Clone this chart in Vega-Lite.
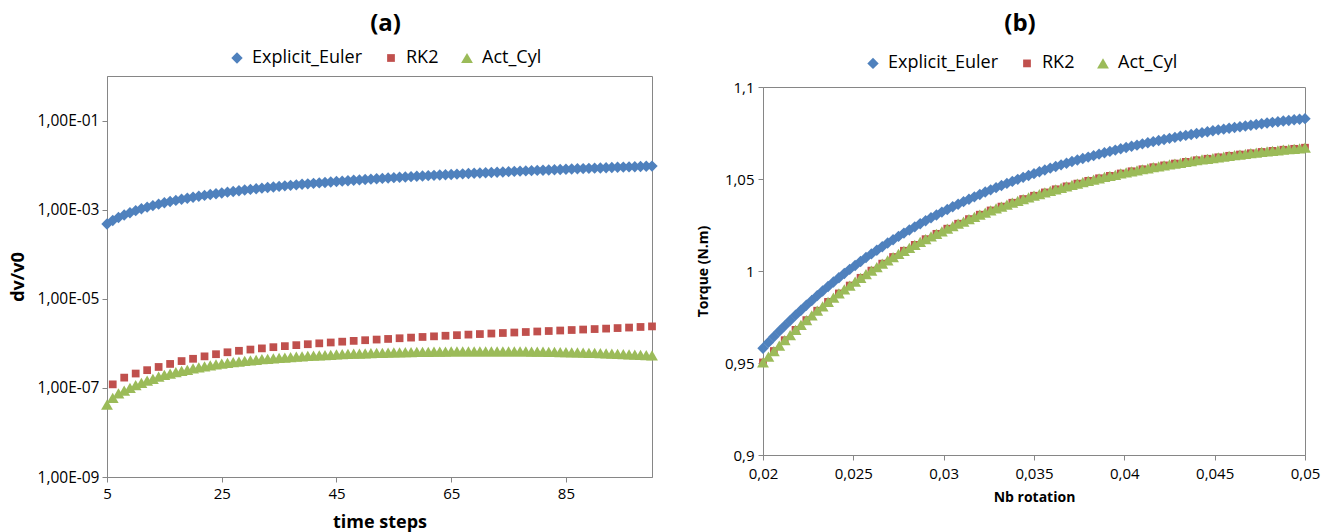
{
"$schema": "https://vega.github.io/schema/vega-lite/v6.json",
"padding": {"left": 8, "top": 10, "right": 5, "bottom": 0},
"background": "white",
"config": {
  "font": "Open Sans",
  "view": {"stroke": "#868686", "strokeWidth": 1},
  "axis": {"grid": false, "domainColor": "#868686", "tickColor": "#868686", "tickSize": 5, "labelColor": "black", "titleColor": "black", "labelFlush": false, "labelOverlap": false, "titleFontWeight": "bold", "labelFont": "Open Sans", "titleFont": "Open Sans"},
  "title": {"fontSize": 24, "fontWeight": "bold", "font": "Open Sans", "color": "black", "anchor": "middle"},
  "legend": {"labelFont": "Open Sans", "labelColor": "black"}
},
"datasets": {
"a": [
{"s":"Explicit_Euler","x":5,"y":475e-6},{"s":"Explicit_Euler","x":6,"y":570e-6},{"s":"Explicit_Euler","x":7,"y":665e-6},{"s":"Explicit_Euler","x":8,"y":760e-6},{"s":"Explicit_Euler","x":9,"y":855e-6},{"s":"Explicit_Euler","x":10,"y":950e-6},
{"s":"Explicit_Euler","x":11,"y":1045e-6},{"s":"Explicit_Euler","x":12,"y":1140e-6},{"s":"Explicit_Euler","x":13,"y":1235e-6},{"s":"Explicit_Euler","x":14,"y":1330e-6},{"s":"Explicit_Euler","x":15,"y":1425e-6},{"s":"Explicit_Euler","x":16,"y":1520e-6},{"s":"Explicit_Euler","x":17,"y":1615e-6},{"s":"Explicit_Euler","x":18,"y":1710e-6},{"s":"Explicit_Euler","x":19,"y":1805e-6},{"s":"Explicit_Euler","x":20,"y":1900e-6},
{"s":"Explicit_Euler","x":21,"y":1995e-6},{"s":"Explicit_Euler","x":22,"y":2090e-6},{"s":"Explicit_Euler","x":23,"y":2185e-6},{"s":"Explicit_Euler","x":24,"y":2280e-6},{"s":"Explicit_Euler","x":25,"y":2375e-6},{"s":"Explicit_Euler","x":26,"y":2470e-6},{"s":"Explicit_Euler","x":27,"y":2565e-6},{"s":"Explicit_Euler","x":28,"y":2660e-6},{"s":"Explicit_Euler","x":29,"y":2755e-6},{"s":"Explicit_Euler","x":30,"y":2850e-6},
{"s":"Explicit_Euler","x":31,"y":2945e-6},{"s":"Explicit_Euler","x":32,"y":3040e-6},{"s":"Explicit_Euler","x":33,"y":3135e-6},{"s":"Explicit_Euler","x":34,"y":3230e-6},{"s":"Explicit_Euler","x":35,"y":3325e-6},{"s":"Explicit_Euler","x":36,"y":3420e-6},{"s":"Explicit_Euler","x":37,"y":3515e-6},{"s":"Explicit_Euler","x":38,"y":3610e-6},{"s":"Explicit_Euler","x":39,"y":3705e-6},{"s":"Explicit_Euler","x":40,"y":3800e-6},
{"s":"Explicit_Euler","x":41,"y":3895e-6},{"s":"Explicit_Euler","x":42,"y":3990e-6},{"s":"Explicit_Euler","x":43,"y":4085e-6},{"s":"Explicit_Euler","x":44,"y":4180e-6},{"s":"Explicit_Euler","x":45,"y":4275e-6},{"s":"Explicit_Euler","x":46,"y":4370e-6},{"s":"Explicit_Euler","x":47,"y":4465e-6},{"s":"Explicit_Euler","x":48,"y":4560e-6},{"s":"Explicit_Euler","x":49,"y":4655e-6},{"s":"Explicit_Euler","x":50,"y":4750e-6},
{"s":"Explicit_Euler","x":51,"y":4845e-6},{"s":"Explicit_Euler","x":52,"y":4940e-6},{"s":"Explicit_Euler","x":53,"y":5035e-6},{"s":"Explicit_Euler","x":54,"y":5130e-6},{"s":"Explicit_Euler","x":55,"y":5225e-6},{"s":"Explicit_Euler","x":56,"y":5320e-6},{"s":"Explicit_Euler","x":57,"y":5415e-6},{"s":"Explicit_Euler","x":58,"y":5510e-6},{"s":"Explicit_Euler","x":59,"y":5605e-6},{"s":"Explicit_Euler","x":60,"y":5700e-6},
{"s":"Explicit_Euler","x":61,"y":5795e-6},{"s":"Explicit_Euler","x":62,"y":5890e-6},{"s":"Explicit_Euler","x":63,"y":5985e-6},{"s":"Explicit_Euler","x":64,"y":6080e-6},{"s":"Explicit_Euler","x":65,"y":6175e-6},{"s":"Explicit_Euler","x":66,"y":6270e-6},{"s":"Explicit_Euler","x":67,"y":6365e-6},{"s":"Explicit_Euler","x":68,"y":6460e-6},{"s":"Explicit_Euler","x":69,"y":6555e-6},{"s":"Explicit_Euler","x":70,"y":6650e-6},
{"s":"Explicit_Euler","x":71,"y":6745e-6},{"s":"Explicit_Euler","x":72,"y":6840e-6},{"s":"Explicit_Euler","x":73,"y":6935e-6},{"s":"Explicit_Euler","x":74,"y":7030e-6},{"s":"Explicit_Euler","x":75,"y":7125e-6},{"s":"Explicit_Euler","x":76,"y":7220e-6},{"s":"Explicit_Euler","x":77,"y":7315e-6},{"s":"Explicit_Euler","x":78,"y":7410e-6},{"s":"Explicit_Euler","x":79,"y":7505e-6},{"s":"Explicit_Euler","x":80,"y":7600e-6},
{"s":"Explicit_Euler","x":81,"y":7695e-6},{"s":"Explicit_Euler","x":82,"y":7790e-6},{"s":"Explicit_Euler","x":83,"y":7885e-6},{"s":"Explicit_Euler","x":84,"y":7980e-6},{"s":"Explicit_Euler","x":85,"y":8075e-6},{"s":"Explicit_Euler","x":86,"y":8170e-6},{"s":"Explicit_Euler","x":87,"y":8265e-6},{"s":"Explicit_Euler","x":88,"y":8360e-6},{"s":"Explicit_Euler","x":89,"y":8455e-6},{"s":"Explicit_Euler","x":90,"y":8550e-6},
{"s":"Explicit_Euler","x":91,"y":8645e-6},{"s":"Explicit_Euler","x":92,"y":8740e-6},{"s":"Explicit_Euler","x":93,"y":8835e-6},{"s":"Explicit_Euler","x":94,"y":8930e-6},{"s":"Explicit_Euler","x":95,"y":9025e-6},{"s":"Explicit_Euler","x":96,"y":9120e-6},{"s":"Explicit_Euler","x":97,"y":9215e-6},{"s":"Explicit_Euler","x":98,"y":9310e-6},{"s":"Explicit_Euler","x":99,"y":9405e-6},{"s":"Explicit_Euler","x":100,"y":9500e-6},
{"s":"RK2","x":6,"y":120e-9},{"s":"RK2","x":8,"y":170e-9},{"s":"RK2","x":10,"y":210e-9},{"s":"RK2","x":12,"y":250e-9},{"s":"RK2","x":14,"y":295e-9},{"s":"RK2","x":16,"y":345e-9},{"s":"RK2","x":18,"y":400e-9},{"s":"RK2","x":20,"y":450e-9},
{"s":"RK2","x":22,"y":510e-9},{"s":"RK2","x":24,"y":570e-9},{"s":"RK2","x":26,"y":630e-9},{"s":"RK2","x":28,"y":680e-9},{"s":"RK2","x":30,"y":725e-9},{"s":"RK2","x":32,"y":770e-9},{"s":"RK2","x":34,"y":820e-9},{"s":"RK2","x":36,"y":865e-9},
{"s":"RK2","x":38,"y":910e-9},{"s":"RK2","x":40,"y":955e-9},{"s":"RK2","x":42,"y":1000e-9},{"s":"RK2","x":44,"y":1045e-9},{"s":"RK2","x":46,"y":1090e-9},{"s":"RK2","x":48,"y":1135e-9},{"s":"RK2","x":50,"y":1175e-9},{"s":"RK2","x":52,"y":1215e-9},
{"s":"RK2","x":54,"y":1255e-9},{"s":"RK2","x":56,"y":1300e-9},{"s":"RK2","x":58,"y":1345e-9},{"s":"RK2","x":60,"y":1390e-9},{"s":"RK2","x":62,"y":1435e-9},{"s":"RK2","x":64,"y":1480e-9},{"s":"RK2","x":66,"y":1525e-9},{"s":"RK2","x":68,"y":1570e-9},
{"s":"RK2","x":70,"y":1615e-9},{"s":"RK2","x":72,"y":1660e-9},{"s":"RK2","x":74,"y":1705e-9},{"s":"RK2","x":76,"y":1750e-9},{"s":"RK2","x":78,"y":1795e-9},{"s":"RK2","x":80,"y":1845e-9},{"s":"RK2","x":82,"y":1890e-9},{"s":"RK2","x":84,"y":1940e-9},
{"s":"RK2","x":86,"y":1990e-9},{"s":"RK2","x":88,"y":2040e-9},{"s":"RK2","x":90,"y":2090e-9},{"s":"RK2","x":92,"y":2140e-9},{"s":"RK2","x":94,"y":2200e-9},{"s":"RK2","x":96,"y":2260e-9},{"s":"RK2","x":98,"y":2330e-9},{"s":"RK2","x":100,"y":2400e-9},
{"s":"Act_Cyl","x":5,"y":42e-9},{"s":"Act_Cyl","x":6,"y":60e-9},{"s":"Act_Cyl","x":7,"y":75e-9},{"s":"Act_Cyl","x":8,"y":87e-9},{"s":"Act_Cyl","x":9,"y":100e-9},{"s":"Act_Cyl","x":10,"y":115e-9},
{"s":"Act_Cyl","x":11,"y":130e-9},{"s":"Act_Cyl","x":12,"y":145e-9},{"s":"Act_Cyl","x":13,"y":160e-9},{"s":"Act_Cyl","x":14,"y":180e-9},{"s":"Act_Cyl","x":15,"y":195e-9},{"s":"Act_Cyl","x":16,"y":210e-9},{"s":"Act_Cyl","x":17,"y":225e-9},{"s":"Act_Cyl","x":18,"y":240e-9},{"s":"Act_Cyl","x":19,"y":255e-9},{"s":"Act_Cyl","x":20,"y":275e-9},
{"s":"Act_Cyl","x":21,"y":290e-9},{"s":"Act_Cyl","x":22,"y":305e-9},{"s":"Act_Cyl","x":23,"y":320e-9},{"s":"Act_Cyl","x":24,"y":335e-9},{"s":"Act_Cyl","x":25,"y":350e-9},{"s":"Act_Cyl","x":26,"y":365e-9},{"s":"Act_Cyl","x":27,"y":378e-9},{"s":"Act_Cyl","x":28,"y":390e-9},{"s":"Act_Cyl","x":29,"y":403e-9},{"s":"Act_Cyl","x":30,"y":415e-9},
{"s":"Act_Cyl","x":31,"y":428e-9},{"s":"Act_Cyl","x":32,"y":440e-9},{"s":"Act_Cyl","x":33,"y":450e-9},{"s":"Act_Cyl","x":34,"y":460e-9},{"s":"Act_Cyl","x":35,"y":470e-9},{"s":"Act_Cyl","x":36,"y":480e-9},{"s":"Act_Cyl","x":37,"y":490e-9},{"s":"Act_Cyl","x":38,"y":500e-9},{"s":"Act_Cyl","x":39,"y":510e-9},{"s":"Act_Cyl","x":40,"y":520e-9},
{"s":"Act_Cyl","x":41,"y":530e-9},{"s":"Act_Cyl","x":42,"y":538e-9},{"s":"Act_Cyl","x":43,"y":546e-9},{"s":"Act_Cyl","x":44,"y":554e-9},{"s":"Act_Cyl","x":45,"y":562e-9},{"s":"Act_Cyl","x":46,"y":570e-9},{"s":"Act_Cyl","x":47,"y":577e-9},{"s":"Act_Cyl","x":48,"y":584e-9},{"s":"Act_Cyl","x":49,"y":590e-9},{"s":"Act_Cyl","x":50,"y":596e-9},
{"s":"Act_Cyl","x":51,"y":602e-9},{"s":"Act_Cyl","x":52,"y":608e-9},{"s":"Act_Cyl","x":53,"y":613e-9},{"s":"Act_Cyl","x":54,"y":618e-9},{"s":"Act_Cyl","x":55,"y":623e-9},{"s":"Act_Cyl","x":56,"y":628e-9},{"s":"Act_Cyl","x":57,"y":632e-9},{"s":"Act_Cyl","x":58,"y":636e-9},{"s":"Act_Cyl","x":59,"y":640e-9},{"s":"Act_Cyl","x":60,"y":644e-9},
{"s":"Act_Cyl","x":61,"y":647e-9},{"s":"Act_Cyl","x":62,"y":650e-9},{"s":"Act_Cyl","x":63,"y":653e-9},{"s":"Act_Cyl","x":64,"y":655e-9},{"s":"Act_Cyl","x":65,"y":657e-9},{"s":"Act_Cyl","x":66,"y":659e-9},{"s":"Act_Cyl","x":67,"y":661e-9},{"s":"Act_Cyl","x":68,"y":662e-9},{"s":"Act_Cyl","x":69,"y":663e-9},{"s":"Act_Cyl","x":70,"y":664e-9},
{"s":"Act_Cyl","x":71,"y":664e-9},{"s":"Act_Cyl","x":72,"y":664e-9},{"s":"Act_Cyl","x":73,"y":664e-9},{"s":"Act_Cyl","x":74,"y":663e-9},{"s":"Act_Cyl","x":75,"y":662e-9},{"s":"Act_Cyl","x":76,"y":661e-9},{"s":"Act_Cyl","x":77,"y":659e-9},{"s":"Act_Cyl","x":78,"y":657e-9},{"s":"Act_Cyl","x":79,"y":655e-9},{"s":"Act_Cyl","x":80,"y":652e-9},
{"s":"Act_Cyl","x":81,"y":649e-9},{"s":"Act_Cyl","x":82,"y":646e-9},{"s":"Act_Cyl","x":83,"y":642e-9},{"s":"Act_Cyl","x":84,"y":638e-9},{"s":"Act_Cyl","x":85,"y":634e-9},{"s":"Act_Cyl","x":86,"y":629e-9},{"s":"Act_Cyl","x":87,"y":624e-9},{"s":"Act_Cyl","x":88,"y":619e-9},{"s":"Act_Cyl","x":89,"y":613e-9},{"s":"Act_Cyl","x":90,"y":607e-9},
{"s":"Act_Cyl","x":91,"y":601e-9},{"s":"Act_Cyl","x":92,"y":595e-9},{"s":"Act_Cyl","x":93,"y":588e-9},{"s":"Act_Cyl","x":94,"y":581e-9},{"s":"Act_Cyl","x":95,"y":574e-9},{"s":"Act_Cyl","x":96,"y":567e-9},{"s":"Act_Cyl","x":97,"y":560e-9},{"s":"Act_Cyl","x":98,"y":552e-9},{"s":"Act_Cyl","x":99,"y":544e-9},{"s":"Act_Cyl","x":100,"y":536e-9}
],
"b": [
{"s":"Explicit_Euler","x":0.0200,"y":0.9580},{"s":"Explicit_Euler","x":0.0203,"y":0.9612},{"s":"Explicit_Euler","x":0.0206,"y":0.9643},{"s":"Explicit_Euler","x":0.0209,"y":0.9673},{"s":"Explicit_Euler","x":0.0212,"y":0.9702},{"s":"Explicit_Euler","x":0.0215,"y":0.9731},{"s":"Explicit_Euler","x":0.0218,"y":0.9760},{"s":"Explicit_Euler","x":0.0221,"y":0.9787},{"s":"Explicit_Euler","x":0.0224,"y":0.9814},{"s":"Explicit_Euler","x":0.0227,"y":0.9840},
{"s":"Explicit_Euler","x":0.0230,"y":0.9866},{"s":"Explicit_Euler","x":0.0233,"y":0.9891},{"s":"Explicit_Euler","x":0.0236,"y":0.9916},{"s":"Explicit_Euler","x":0.0239,"y":0.9940},{"s":"Explicit_Euler","x":0.0242,"y":0.9963},{"s":"Explicit_Euler","x":0.0245,"y":0.9986},{"s":"Explicit_Euler","x":0.0248,"y":1.0009},{"s":"Explicit_Euler","x":0.0251,"y":1.0030},{"s":"Explicit_Euler","x":0.0254,"y":1.0052},{"s":"Explicit_Euler","x":0.0257,"y":1.0073},
{"s":"Explicit_Euler","x":0.0260,"y":1.0093},{"s":"Explicit_Euler","x":0.0263,"y":1.0113},{"s":"Explicit_Euler","x":0.0266,"y":1.0132},{"s":"Explicit_Euler","x":0.0269,"y":1.0152},{"s":"Explicit_Euler","x":0.0272,"y":1.0170},{"s":"Explicit_Euler","x":0.0275,"y":1.0188},{"s":"Explicit_Euler","x":0.0278,"y":1.0206},{"s":"Explicit_Euler","x":0.0281,"y":1.0223},{"s":"Explicit_Euler","x":0.0284,"y":1.0240},{"s":"Explicit_Euler","x":0.0287,"y":1.0257},
{"s":"Explicit_Euler","x":0.0290,"y":1.0273},{"s":"Explicit_Euler","x":0.0293,"y":1.0289},{"s":"Explicit_Euler","x":0.0296,"y":1.0304},{"s":"Explicit_Euler","x":0.0299,"y":1.0320},{"s":"Explicit_Euler","x":0.0302,"y":1.0334},{"s":"Explicit_Euler","x":0.0305,"y":1.0349},{"s":"Explicit_Euler","x":0.0308,"y":1.0363},{"s":"Explicit_Euler","x":0.0311,"y":1.0377},{"s":"Explicit_Euler","x":0.0314,"y":1.0390},{"s":"Explicit_Euler","x":0.0317,"y":1.0403},
{"s":"Explicit_Euler","x":0.0320,"y":1.0416},{"s":"Explicit_Euler","x":0.0323,"y":1.0429},{"s":"Explicit_Euler","x":0.0326,"y":1.0441},{"s":"Explicit_Euler","x":0.0329,"y":1.0453},{"s":"Explicit_Euler","x":0.0332,"y":1.0465},{"s":"Explicit_Euler","x":0.0335,"y":1.0476},{"s":"Explicit_Euler","x":0.0338,"y":1.0487},{"s":"Explicit_Euler","x":0.0341,"y":1.0498},{"s":"Explicit_Euler","x":0.0344,"y":1.0509},{"s":"Explicit_Euler","x":0.0347,"y":1.0519},
{"s":"Explicit_Euler","x":0.0350,"y":1.0529},{"s":"Explicit_Euler","x":0.0353,"y":1.0539},{"s":"Explicit_Euler","x":0.0356,"y":1.0549},{"s":"Explicit_Euler","x":0.0359,"y":1.0559},{"s":"Explicit_Euler","x":0.0362,"y":1.0568},{"s":"Explicit_Euler","x":0.0365,"y":1.0577},{"s":"Explicit_Euler","x":0.0368,"y":1.0586},{"s":"Explicit_Euler","x":0.0371,"y":1.0595},{"s":"Explicit_Euler","x":0.0374,"y":1.0603},{"s":"Explicit_Euler","x":0.0377,"y":1.0611},
{"s":"Explicit_Euler","x":0.0380,"y":1.0619},{"s":"Explicit_Euler","x":0.0383,"y":1.0627},{"s":"Explicit_Euler","x":0.0386,"y":1.0635},{"s":"Explicit_Euler","x":0.0389,"y":1.0643},{"s":"Explicit_Euler","x":0.0392,"y":1.0650},{"s":"Explicit_Euler","x":0.0395,"y":1.0657},{"s":"Explicit_Euler","x":0.0398,"y":1.0664},{"s":"Explicit_Euler","x":0.0401,"y":1.0671},{"s":"Explicit_Euler","x":0.0404,"y":1.0678},{"s":"Explicit_Euler","x":0.0407,"y":1.0684},
{"s":"Explicit_Euler","x":0.0410,"y":1.0691},{"s":"Explicit_Euler","x":0.0413,"y":1.0697},{"s":"Explicit_Euler","x":0.0416,"y":1.0703},{"s":"Explicit_Euler","x":0.0419,"y":1.0709},{"s":"Explicit_Euler","x":0.0422,"y":1.0715},{"s":"Explicit_Euler","x":0.0425,"y":1.0721},{"s":"Explicit_Euler","x":0.0428,"y":1.0726},{"s":"Explicit_Euler","x":0.0431,"y":1.0732},{"s":"Explicit_Euler","x":0.0434,"y":1.0737},{"s":"Explicit_Euler","x":0.0437,"y":1.0742},
{"s":"Explicit_Euler","x":0.0440,"y":1.0747},{"s":"Explicit_Euler","x":0.0443,"y":1.0752},{"s":"Explicit_Euler","x":0.0446,"y":1.0757},{"s":"Explicit_Euler","x":0.0449,"y":1.0762},{"s":"Explicit_Euler","x":0.0452,"y":1.0767},{"s":"Explicit_Euler","x":0.0455,"y":1.0771},{"s":"Explicit_Euler","x":0.0458,"y":1.0776},{"s":"Explicit_Euler","x":0.0461,"y":1.0780},{"s":"Explicit_Euler","x":0.0464,"y":1.0784},{"s":"Explicit_Euler","x":0.0467,"y":1.0788},
{"s":"Explicit_Euler","x":0.0470,"y":1.0792},{"s":"Explicit_Euler","x":0.0473,"y":1.0796},{"s":"Explicit_Euler","x":0.0476,"y":1.0800},{"s":"Explicit_Euler","x":0.0479,"y":1.0804},{"s":"Explicit_Euler","x":0.0482,"y":1.0808},{"s":"Explicit_Euler","x":0.0485,"y":1.0811},{"s":"Explicit_Euler","x":0.0488,"y":1.0815},{"s":"Explicit_Euler","x":0.0491,"y":1.0818},{"s":"Explicit_Euler","x":0.0494,"y":1.0822},{"s":"Explicit_Euler","x":0.0497,"y":1.0825},
{"s":"Explicit_Euler","x":0.0500,"y":1.0828},
{"s":"RK2","x":0.0200,"y":0.9503},{"s":"RK2","x":0.0206,"y":0.9565},{"s":"RK2","x":0.0212,"y":0.9624},{"s":"RK2","x":0.0218,"y":0.9680},{"s":"RK2","x":0.0224,"y":0.9733},{"s":"RK2","x":0.0230,"y":0.9784},{"s":"RK2","x":0.0236,"y":0.9832},{"s":"RK2","x":0.0242,"y":0.9878},{"s":"RK2","x":0.0248,"y":0.9921},{"s":"RK2","x":0.0254,"y":0.9963},
{"s":"RK2","x":0.0260,"y":1.0002},{"s":"RK2","x":0.0266,"y":1.0040},{"s":"RK2","x":0.0272,"y":1.0076},{"s":"RK2","x":0.0278,"y":1.0110},{"s":"RK2","x":0.0284,"y":1.0142},{"s":"RK2","x":0.0290,"y":1.0173},{"s":"RK2","x":0.0296,"y":1.0202},{"s":"RK2","x":0.0302,"y":1.0230},{"s":"RK2","x":0.0308,"y":1.0257},{"s":"RK2","x":0.0314,"y":1.0282},
{"s":"RK2","x":0.0320,"y":1.0306},{"s":"RK2","x":0.0326,"y":1.0329},{"s":"RK2","x":0.0332,"y":1.0350},{"s":"RK2","x":0.0338,"y":1.0371},{"s":"RK2","x":0.0344,"y":1.0391},{"s":"RK2","x":0.0350,"y":1.0409},{"s":"RK2","x":0.0356,"y":1.0427},{"s":"RK2","x":0.0362,"y":1.0444},{"s":"RK2","x":0.0368,"y":1.0460},{"s":"RK2","x":0.0374,"y":1.0475},
{"s":"RK2","x":0.0380,"y":1.0490},{"s":"RK2","x":0.0386,"y":1.0504},{"s":"RK2","x":0.0392,"y":1.0517},{"s":"RK2","x":0.0398,"y":1.0530},{"s":"RK2","x":0.0404,"y":1.0542},{"s":"RK2","x":0.0410,"y":1.0553},{"s":"RK2","x":0.0416,"y":1.0564},{"s":"RK2","x":0.0422,"y":1.0574},{"s":"RK2","x":0.0428,"y":1.0584},{"s":"RK2","x":0.0434,"y":1.0593},
{"s":"RK2","x":0.0440,"y":1.0602},{"s":"RK2","x":0.0446,"y":1.0610},{"s":"RK2","x":0.0452,"y":1.0618},{"s":"RK2","x":0.0458,"y":1.0626},{"s":"RK2","x":0.0464,"y":1.0633},{"s":"RK2","x":0.0470,"y":1.0640},{"s":"RK2","x":0.0476,"y":1.0647},{"s":"RK2","x":0.0482,"y":1.0653},{"s":"RK2","x":0.0488,"y":1.0659},{"s":"RK2","x":0.0494,"y":1.0664},
{"s":"RK2","x":0.0500,"y":1.0670},
{"s":"Act_Cyl","x":0.0200,"y":0.9503},{"s":"Act_Cyl","x":0.0203,"y":0.9534},{"s":"Act_Cyl","x":0.0206,"y":0.9565},{"s":"Act_Cyl","x":0.0209,"y":0.9595},{"s":"Act_Cyl","x":0.0212,"y":0.9624},{"s":"Act_Cyl","x":0.0215,"y":0.9652},{"s":"Act_Cyl","x":0.0218,"y":0.9680},{"s":"Act_Cyl","x":0.0221,"y":0.9707},{"s":"Act_Cyl","x":0.0224,"y":0.9733},{"s":"Act_Cyl","x":0.0227,"y":0.9759},
{"s":"Act_Cyl","x":0.0230,"y":0.9784},{"s":"Act_Cyl","x":0.0233,"y":0.9808},{"s":"Act_Cyl","x":0.0236,"y":0.9832},{"s":"Act_Cyl","x":0.0239,"y":0.9855},{"s":"Act_Cyl","x":0.0242,"y":0.9878},{"s":"Act_Cyl","x":0.0245,"y":0.9900},{"s":"Act_Cyl","x":0.0248,"y":0.9921},{"s":"Act_Cyl","x":0.0251,"y":0.9942},{"s":"Act_Cyl","x":0.0254,"y":0.9963},{"s":"Act_Cyl","x":0.0257,"y":0.9983},
{"s":"Act_Cyl","x":0.0260,"y":1.0002},{"s":"Act_Cyl","x":0.0263,"y":1.0021},{"s":"Act_Cyl","x":0.0266,"y":1.0040},{"s":"Act_Cyl","x":0.0269,"y":1.0058},{"s":"Act_Cyl","x":0.0272,"y":1.0076},{"s":"Act_Cyl","x":0.0275,"y":1.0093},{"s":"Act_Cyl","x":0.0278,"y":1.0110},{"s":"Act_Cyl","x":0.0281,"y":1.0126},{"s":"Act_Cyl","x":0.0284,"y":1.0142},{"s":"Act_Cyl","x":0.0287,"y":1.0158},
{"s":"Act_Cyl","x":0.0290,"y":1.0173},{"s":"Act_Cyl","x":0.0293,"y":1.0188},{"s":"Act_Cyl","x":0.0296,"y":1.0202},{"s":"Act_Cyl","x":0.0299,"y":1.0216},{"s":"Act_Cyl","x":0.0302,"y":1.0230},{"s":"Act_Cyl","x":0.0305,"y":1.0244},{"s":"Act_Cyl","x":0.0308,"y":1.0257},{"s":"Act_Cyl","x":0.0311,"y":1.0269},{"s":"Act_Cyl","x":0.0314,"y":1.0282},{"s":"Act_Cyl","x":0.0317,"y":1.0294},
{"s":"Act_Cyl","x":0.0320,"y":1.0306},{"s":"Act_Cyl","x":0.0323,"y":1.0317},{"s":"Act_Cyl","x":0.0326,"y":1.0329},{"s":"Act_Cyl","x":0.0329,"y":1.0340},{"s":"Act_Cyl","x":0.0332,"y":1.0350},{"s":"Act_Cyl","x":0.0335,"y":1.0361},{"s":"Act_Cyl","x":0.0338,"y":1.0371},{"s":"Act_Cyl","x":0.0341,"y":1.0381},{"s":"Act_Cyl","x":0.0344,"y":1.0391},{"s":"Act_Cyl","x":0.0347,"y":1.0400},
{"s":"Act_Cyl","x":0.0350,"y":1.0409},{"s":"Act_Cyl","x":0.0353,"y":1.0418},{"s":"Act_Cyl","x":0.0356,"y":1.0427},{"s":"Act_Cyl","x":0.0359,"y":1.0436},{"s":"Act_Cyl","x":0.0362,"y":1.0444},{"s":"Act_Cyl","x":0.0365,"y":1.0452},{"s":"Act_Cyl","x":0.0368,"y":1.0460},{"s":"Act_Cyl","x":0.0371,"y":1.0468},{"s":"Act_Cyl","x":0.0374,"y":1.0475},{"s":"Act_Cyl","x":0.0377,"y":1.0483},
{"s":"Act_Cyl","x":0.0380,"y":1.0490},{"s":"Act_Cyl","x":0.0383,"y":1.0497},{"s":"Act_Cyl","x":0.0386,"y":1.0504},{"s":"Act_Cyl","x":0.0389,"y":1.0511},{"s":"Act_Cyl","x":0.0392,"y":1.0517},{"s":"Act_Cyl","x":0.0395,"y":1.0523},{"s":"Act_Cyl","x":0.0398,"y":1.0530},{"s":"Act_Cyl","x":0.0401,"y":1.0536},{"s":"Act_Cyl","x":0.0404,"y":1.0542},{"s":"Act_Cyl","x":0.0407,"y":1.0547},
{"s":"Act_Cyl","x":0.0410,"y":1.0553},{"s":"Act_Cyl","x":0.0413,"y":1.0558},{"s":"Act_Cyl","x":0.0416,"y":1.0564},{"s":"Act_Cyl","x":0.0419,"y":1.0569},{"s":"Act_Cyl","x":0.0422,"y":1.0574},{"s":"Act_Cyl","x":0.0425,"y":1.0579},{"s":"Act_Cyl","x":0.0428,"y":1.0584},{"s":"Act_Cyl","x":0.0431,"y":1.0588},{"s":"Act_Cyl","x":0.0434,"y":1.0593},{"s":"Act_Cyl","x":0.0437,"y":1.0597},
{"s":"Act_Cyl","x":0.0440,"y":1.0602},{"s":"Act_Cyl","x":0.0443,"y":1.0606},{"s":"Act_Cyl","x":0.0446,"y":1.0610},{"s":"Act_Cyl","x":0.0449,"y":1.0614},{"s":"Act_Cyl","x":0.0452,"y":1.0618},{"s":"Act_Cyl","x":0.0455,"y":1.0622},{"s":"Act_Cyl","x":0.0458,"y":1.0626},{"s":"Act_Cyl","x":0.0461,"y":1.0630},{"s":"Act_Cyl","x":0.0464,"y":1.0633},{"s":"Act_Cyl","x":0.0467,"y":1.0637},
{"s":"Act_Cyl","x":0.0470,"y":1.0640},{"s":"Act_Cyl","x":0.0473,"y":1.0643},{"s":"Act_Cyl","x":0.0476,"y":1.0647},{"s":"Act_Cyl","x":0.0479,"y":1.0650},{"s":"Act_Cyl","x":0.0482,"y":1.0653},{"s":"Act_Cyl","x":0.0485,"y":1.0656},{"s":"Act_Cyl","x":0.0488,"y":1.0659},{"s":"Act_Cyl","x":0.0491,"y":1.0662},{"s":"Act_Cyl","x":0.0494,"y":1.0664},{"s":"Act_Cyl","x":0.0497,"y":1.0667},
{"s":"Act_Cyl","x":0.0500,"y":1.0670}
]
},
"spacing": 36,
"hconcat": [
{"spacing": 0, "vconcat": [
{"width": 545, "height": 1, "data": {"values": []}, "mark": {"type": "point", "opacity": 0}, "view": {"stroke": null}},
{
  "title": {"text": "(a)", "offset": 13, "dx": 6},
  "width": 545, "height": 401,
  "data": {"name": "a"},
  "mark": {"type": "point", "filled": true, "opacity": 1},
  "encoding": {
    "x": {"field": "x", "type": "quantitative", "scale": {"domain": [5, 100], "nice": false, "zero": false},
      "axis": {"values": [5, 25, 45, 65, 85], "title": "time steps", "labelFontSize": 15, "titleFontSize": 18, "labelPadding": 4, "titlePadding": 12}},
    "y": {"field": "y", "type": "quantitative", "scale": {"type": "log", "domain": [1e-9, 1], "nice": false},
      "axis": {"values": [1e-9, 1e-7, 1e-5, 1e-3, 1e-1], "labelExpr": "'1,00E-0' + round(-log(datum.value)/LN10)", "title": "dv/v0", "labelFontSize": 15.5, "titleFontSize": 18, "labelPadding": 3, "titlePadding": 10}},
    "color": {"field": "s", "type": "nominal", "scale": {"domain": ["Explicit_Euler", "RK2", "Act_Cyl"], "range": ["#4F81BD", "#C0504D", "#9BBB59"]},
      "legend": {"orient": "none", "legendX": 121, "legendY": -27, "direction": "horizontal", "title": null, "labelFontSize": 18, "symbolSize": 150, "columnPadding": 19, "labelOffset": 6, "symbolOpacity": 1, "encode": {"symbols": {"update": {"size": {"value": 150}}}}}},
    "shape": {"field": "s", "type": "nominal", "scale": {"domain": ["Explicit_Euler", "RK2", "Act_Cyl"], "range": ["diamond", "square", "triangle-up"]},
      "legend": {"orient": "none", "legendX": 121, "legendY": -27, "direction": "horizontal", "title": null, "labelFontSize": 18, "symbolSize": 150, "columnPadding": 19, "labelOffset": 6, "symbolOpacity": 1, "encode": {"symbols": {"update": {"size": {"value": 150}}}}}},
    "size": {"field": "s", "type": "nominal", "scale": {"type": "ordinal", "domain": ["Explicit_Euler", "RK2", "Act_Cyl"], "range": [130, 60, 140]}, "legend": null}
  }
}],
"resolve": {"scale": {"x": "independent", "y": "independent", "color": "independent", "shape": "independent", "size": "independent"}, "legend": {"color": "independent", "shape": "independent"}}
},
{"spacing": 0, "vconcat": [
{"width": 542, "height": 1, "data": {"values": []}, "mark": {"type": "point", "opacity": 0}, "view": {"stroke": null}},
{
  "title": {"text": "(b)", "offset": 18, "dx": -14},
  "width": 542, "height": 368,
  "data": {"name": "b"},
  "mark": {"type": "point", "filled": true, "opacity": 1},
  "encoding": {
    "x": {"field": "x", "type": "quantitative", "scale": {"domain": [0.02, 0.05], "nice": false, "zero": false},
      "axis": {"values": [0.02, 0.025, 0.03, 0.035, 0.04, 0.045, 0.05], "labelExpr": "replace(toString(datum.value), '.', ',')", "title": "Nb rotation", "labelFontSize": 15, "titleFontSize": 14, "labelPadding": 6, "titlePadding": 9}},
    "y": {"field": "y", "type": "quantitative", "scale": {"domain": [0.9, 1.1], "nice": false, "zero": false},
      "axis": {"values": [0.9, 0.95, 1, 1.05, 1.1], "labelExpr": "replace(toString(datum.value), '.', ',')", "title": "Torque (N.m)", "labelFontSize": 15, "titleFontSize": 14, "labelPadding": 4, "titlePadding": 14}},
    "color": {"field": "s", "type": "nominal", "scale": {"domain": ["Explicit_Euler", "RK2", "Act_Cyl"], "range": ["#4F81BD", "#C0504D", "#9BBB59"]},
      "legend": {"orient": "none", "legendX": 101, "legendY": -32.6, "direction": "horizontal", "title": null, "labelFontSize": 18, "symbolSize": 150, "columnPadding": 19, "labelOffset": 6, "symbolOpacity": 1, "encode": {"symbols": {"update": {"size": {"value": 150}}}}}},
    "shape": {"field": "s", "type": "nominal", "scale": {"domain": ["Explicit_Euler", "RK2", "Act_Cyl"], "range": ["diamond", "square", "triangle-up"]},
      "legend": {"orient": "none", "legendX": 101, "legendY": -32.6, "direction": "horizontal", "title": null, "labelFontSize": 18, "symbolSize": 150, "columnPadding": 19, "labelOffset": 6, "symbolOpacity": 1, "encode": {"symbols": {"update": {"size": {"value": 150}}}}}},
    "size": {"field": "s", "type": "nominal", "scale": {"type": "ordinal", "domain": ["Explicit_Euler", "RK2", "Act_Cyl"], "range": [130, 60, 140]}, "legend": null}
  }
}],
"resolve": {"scale": {"x": "independent", "y": "independent", "color": "independent", "shape": "independent", "size": "independent"}, "legend": {"color": "independent", "shape": "independent"}}
}
],
"resolve": {"scale": {"x": "independent", "y": "independent", "color": "independent", "shape": "independent", "size": "independent"}, "legend": {"color": "independent", "shape": "independent"}}
}
